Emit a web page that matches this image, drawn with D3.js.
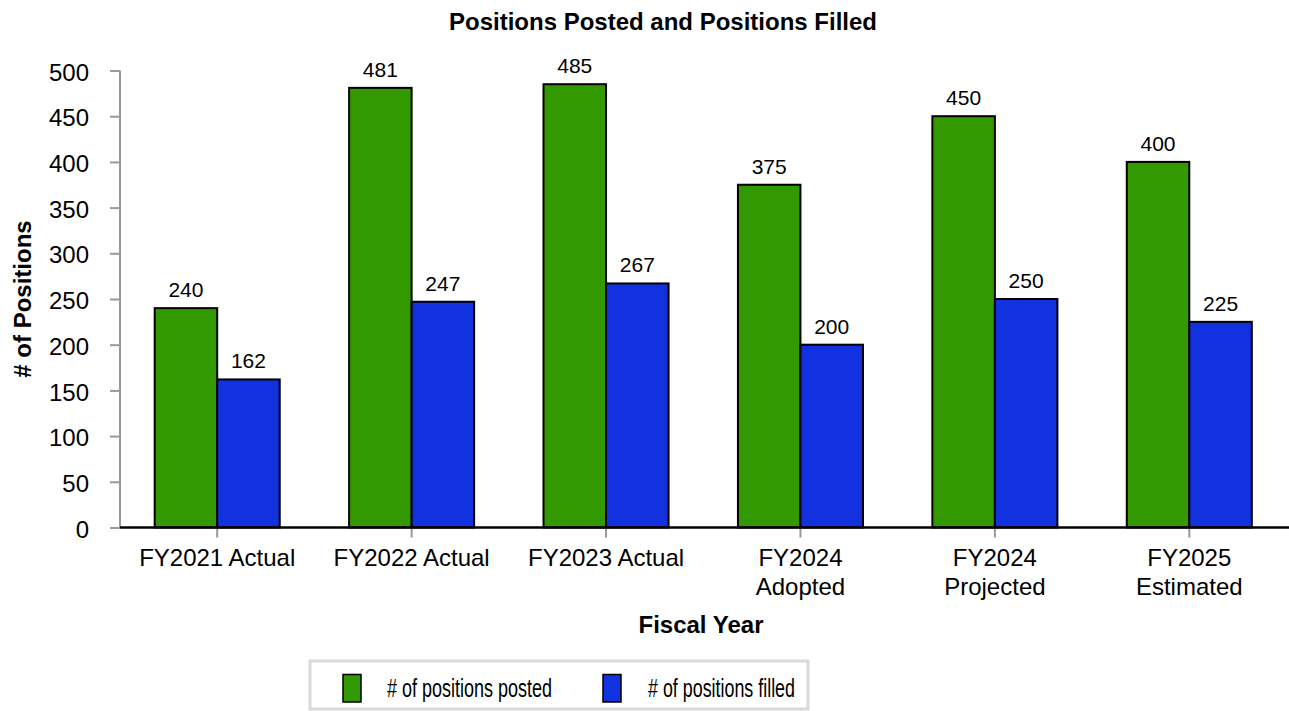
<!DOCTYPE html>
<html>
<head>
<meta charset="utf-8">
<script src="https://cdn.jsdelivr.net/npm/d3@7"></script>
<style>
  body { margin: 0; background: #fff; }
  text { font-family: "Liberation Sans", Arial, sans-serif; fill: #000; }
</style>
</head>
<body>
<svg id="chart" width="1289" height="711"></svg>
<script>
const categories = [["FY2021 Actual"], ["FY2022 Actual"], ["FY2023 Actual"],
  ["FY2024", "Adopted"], ["FY2024", "Projected"], ["FY2025", "Estimated"]];
const seriesNames = ["# of positions posted", "# of positions filled"];
const posted = [240, 481, 485, 375, 450, 400];
const filled = [162, 247, 267, 200, 250, 225];
const yTicks = [0, 50, 100, 150, 200, 250, 300, 350, 400, 450, 500];
const colors = ["#339900", "#1232e0"];

const svg = d3.select("#chart");
const plotLeft = 120, plotRight = 1286.5, plotTop = 70.5, plotBottom = 527.5;

const catKeys = categories.map(d => d.join(" "));
const x = d3.scaleBand().domain(catKeys).range([plotLeft, plotRight]).padding(0);
const x1 = d3.scaleBand().domain(seriesNames).range([0, x.bandwidth()])
  .paddingInner(0).paddingOuter(0.555);
const y = d3.scaleLinear().domain([0, 500]).range([plotBottom, plotTop]);

// title
svg.append("text")
  .attr("x", 663).attr("y", 29.5)
  .attr("text-anchor", "middle")
  .style("font-size", "24px").style("font-weight", "bold")
  .text("Positions Posted and Positions Filled");

// y axis
const yAxis = svg.append("g")
  .attr("transform", `translate(${plotLeft},0)`)
  .call(d3.axisLeft(y).tickValues(yTicks).tickSize(10).tickPadding(21));
yAxis.select(".domain").attr("stroke", "#999").attr("stroke-width", 2).attr("d", `M0,${plotTop}V${plotBottom}`);
yAxis.selectAll(".tick line").attr("stroke", "#999").attr("stroke-width", 2);
yAxis.selectAll(".tick text")
  .style("font-size", "24px").style("font-family", "Liberation Sans, Arial, sans-serif")
  .attr("dy", "0.4em");

// y title
svg.append("text")
  .attr("transform", `translate(31,${(plotTop + plotBottom) / 2}) rotate(-90)`)
  .attr("text-anchor", "middle")
  .style("font-size", "24px").style("font-weight", "bold")
  .text("# of Positions");

// bars
const rows = catKeys.map((k, i) => ({ key: k, values: [posted[i], filled[i]] }));
const groups = svg.append("g").selectAll("g")
  .data(rows).join("g")
  .attr("transform", d => `translate(${x(d.key)},0)`);

groups.selectAll("rect")
  .data(d => d.values.map((v, j) => ({ name: seriesNames[j], v, j })))
  .join("rect")
  .attr("x", d => x1(d.name))
  .attr("y", d => y(d.v))
  .attr("width", x1.bandwidth())
  .attr("height", d => plotBottom - y(d.v))
  .attr("fill", d => colors[d.j])
  .attr("stroke", "#000")
  .attr("stroke-width", 2);

groups.selectAll("text.val")
  .data(d => d.values.map((v, j) => ({ name: seriesNames[j], v })))
  .join("text")
  .attr("class", "val")
  .attr("x", d => x1(d.name) + x1.bandwidth() / 2)
  .attr("y", d => y(d.v) - 11)
  .attr("text-anchor", "middle")
  .style("font-size", "21px")
  .text(d => d.v);

// x axis
const xAxis = svg.append("g")
  .attr("transform", `translate(0,${plotBottom})`)
  .call(d3.axisBottom(x).tickSize(10).tickFormat(""));
xAxis.select(".domain").remove();
xAxis.selectAll(".tick line").attr("stroke", "#999").attr("stroke-width", 2);
svg.append("line")
  .attr("x1", plotLeft).attr("x2", 1289)
  .attr("y1", plotBottom).attr("y2", plotBottom)
  .attr("stroke", "#000").attr("stroke-width", 2.5);

xAxis.selectAll(".tick").each(function(d, i) {
  const t = d3.select(this).append("text")
    .attr("text-anchor", "middle")
    .attr("y", 38.5)
    .style("font-size", "24px");
  categories[i].forEach((line, k) => {
    t.append("tspan").attr("x", 0).attr("dy", k === 0 ? 0 : 29).text(line);
  });
});

svg.append("text")
  .attr("x", 701).attr("y", 632.5)
  .attr("text-anchor", "middle")
  .style("font-size", "24px").style("font-weight", "bold")
  .text("Fiscal Year");

// legend
const legend = svg.append("g");
legend.append("rect")
  .attr("x", 310).attr("y", 661).attr("width", 498).attr("height", 48)
  .attr("fill", "#fff").attr("stroke", "#d9d9d9").attr("stroke-width", 3);
const legX = [343, 603];
const legTextX = [387, 648];
const legLen = [165, 147];
seriesNames.forEach((name, i) => {
  legend.append("rect")
    .attr("x", legX[i]).attr("y", 674.5).attr("width", 18).attr("height", 27.5)
    .attr("fill", colors[i]).attr("stroke", "#000").attr("stroke-width", 1.5);
  legend.append("text")
    .attr("x", legTextX[i]).attr("y", 697)
    .style("font-size", "25px")
    .attr("textLength", legLen[i]).attr("lengthAdjust", "spacingAndGlyphs")
    .text(name);
});
</script>
</body>
</html>
